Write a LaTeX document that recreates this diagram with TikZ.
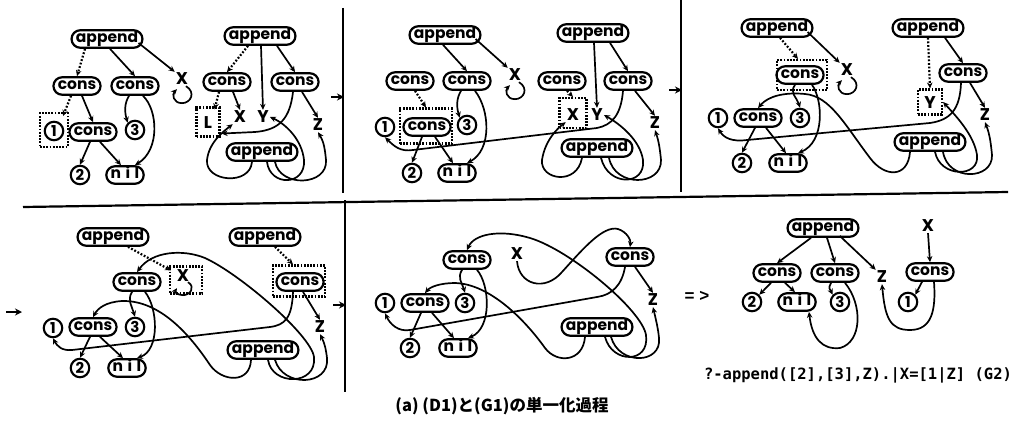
\documentclass[tikz,border=0pt]{standalone}
\usepackage{fontspec}
\newfontfamily\nf{Poppins}
\newfontfamily\cjk{Noto Sans CJK JP}
\newfontfamily\mono{DejaVu Sans Mono}
\newfontfamily\lsans{Liberation Sans}
\newcommand{\nilt}{n\hspace{4.5pt}i\hspace{4.5pt}l}
\usetikzlibrary{shapes.misc,arrows.meta,calc}
\begin{document}
\begin{tikzpicture}[x=1pt,y=-1pt,
  pill/.style={draw, line width=2.2pt, rounded rectangle, inner xsep=3pt, inner ysep=4pt,
     text height=8.5pt, text depth=1pt, font=\nf\bfseries\fontsize{15.5}{15.5}\selectfont},
  num/.style={draw, circle, line width=2.1pt, minimum size=18.5pt, inner sep=0pt,
     font=\nf\bfseries\fontsize{15}{15}\selectfont},
  var/.style={inner sep=1pt, font=\nf\bfseries\fontsize{17}{17}\selectfont},
  dbox/.style={draw, line width=2.1pt, dash pattern=on 1.8pt off 1.4pt, inner sep=0pt},
  arr/.style={-{Stealth[length=6pt,width=5.5pt]}, line width=1.7pt},
  darr/.style={arr, line width=2.2pt, dash pattern=on 1.8pt off 1.8pt},
  frame/.style={line width=2.2pt},
  parr/.style={-{Stealth[length=7pt,width=7pt]}, line width=2.2pt}
]
\useasboundingbox (0,0) rectangle (1027,420);

% ---------------- frames ----------------
\draw[frame] (343,8) -- (343,193);
\draw[frame] (681,0) -- (681,192);
\draw[frame] (23,207) -- (1008,192);
\draw[frame] (345,200) -- (345,392);
\coordinate (p2a) at (331,97); \coordinate (p2b) at (344,97);
\coordinate (p3a) at (669,90); \coordinate (p3b) at (682,90);
\coordinate (p4a) at (6,312);  \coordinate (p4b) at (22,312);
\coordinate (p5a) at (333,305); \coordinate (p5b) at (346,305);
\draw[parr] (p2a) -- (p2b);
\draw[parr] (p3a) -- (p3b);
\draw[parr] (p4a) -- (p4b);
\draw[parr] (p5a) -- (p5b);

% ---------------- panel 1 ----------------
\node[pill] (a1) at (107,39) {append};
\node[pill] (c1) at (77,86) {cons};
\node[pill] (c2) at (135,86) {cons};
\node[var] (x1) at (182,79) {X};
\node[dbox, minimum width=28pt, minimum height=34pt] (bx1) at (54,130) {};
\node[num] (n1a) at (54,131) {1};
\node[pill] (c3) at (93,132) {cons};
\node[num] (n3a) at (135,130) {3};
\node[num] (n2a) at (80,175) {2};
\node[pill] (nil1) at (125,175) {\nilt};

\draw[darr] ($(a1.south)+(-22,0)$) -- (c1.north);
\draw[arr] ($(a1.south)+(3,0)$) -- (c2.north);
\draw[arr] ($(a1.east)+(-5,4)$) -- (x1.north west);
\draw[arr] ($(x1.south)+(4,0)$) .. controls +(10,6) and +(9,0) .. ($(x1.south)+(0,17)$) .. controls +(-9,0) and +(-5,5) .. ($(x1.south)+(-5,3)$);
\draw[darr] ($(c1.south)+(-6,0)$) -- ($(bx1.north east)+(-6,4)$);
\draw[arr] ($(c1.south)+(5,0)$) -- (c3.north);
\draw[arr] ($(c2.south)+(-6,0)$) .. controls +(-5,8) and +(-3,-10) .. (n3a.north west);
\draw[arr] ($(c2.south)+(8,0)$) .. controls (158,110) and (160,150) .. (nil1.north east);
\draw[arr] ($(c3.south)+(-3,0)$) -- (n2a.north);
\draw[arr] ($(c3.south)+(7,0)$) -- ($(nil1.north)+(-4,0)$);

\node[pill] (a2) at (260,36) {append};
\node[pill] (c4) at (227,82) {cons};
\node[pill] (c5) at (295,82) {cons};
\node[dbox, minimum width=23pt, minimum height=29pt] (bL) at (208,122) {};
\node[var] (L1) at (208,123) {L};
\node[var] (x2) at (240,117) {X};
\node[var] (y2) at (263,117) {Y};
\node[var] (z2) at (318,125) {Z};
\node[pill] (a3) at (262,152) {append};

\draw[darr] ($(a2.south)+(-12,0)$) -- (c4.north);
\draw[arr] ($(a2.south)+(1,0)$) -- (y2.north);
\draw[arr] ($(a2.south)+(17,0)$) -- (c5.north);
\draw[darr] ($(c4.south)+(-8,0)$) -- ($(bL.north east)+(-6,3)$);
\draw[arr] ($(c4.south)+(6,0)$) -- (x2.north);
\draw[arr] ($(c5.south)+(7,0)$) -- (z2.north);
\draw[arr] ($(c5.south)+(-2,0)$) .. controls (290,118) and (280,130) .. (255,132) -- ($(bL.south east)+(1,-4)$);
\draw[arr] ($(a3.south)+(-10,0)$) .. controls (250,186) and (205,182) .. (207,160) .. controls (209,142) and (224,131) .. (x2.south west);
\draw[arr] ($(a3.south)+(5,0)$) .. controls (270,187) and (306,186) .. (304,160) .. controls (302,140) and (286,124) .. (y2.east);
\draw[arr] ($(a3.south)+(13,0)$) .. controls (280,188) and (328,186) .. (326,160) .. controls (325,150) and (324,142) .. (z2.south);

% ---------------- panel 2 ----------------
\node[pill] (b1) at (445,35) {append};
\node[pill] (b2) at (410,81) {cons};
\node[pill] (b3) at (467,81) {cons};
\node[var] (bx) at (515,75) {X};
\node[num] (bn1) at (385,127) {1};
\node[dbox, minimum width=52pt, minimum height=35pt] (bbox) at (426,126) {};
\node[pill] (b4) at (427,127) {cons};
\node[num] (bn3) at (467,125) {3};
\node[num] (bn2) at (412,173) {2};
\node[pill] (bnil) at (457,173) {\nilt};

\draw[arr] ($(b1.south)+(-2,0)$) -- (b3.north);
\draw[arr] ($(b1.east)+(-6,4)$) -- (bx.north west);
\draw[arr] ($(bx.south)+(4,0)$) .. controls +(10,6) and +(9,0) .. ($(bx.south)+(0,17)$) .. controls +(-9,0) and +(-5,5) .. ($(bx.south)+(-5,3)$);
\draw[darr] ($(b2.south)+(5,0)$) -- (bbox.north);
\draw[arr] ($(b3.south)+(-6,0)$) .. controls +(-5,8) and +(-3,-10) .. (bn3.north west);
\draw[arr] ($(b3.south)+(8,0)$) .. controls (490,110) and (492,150) .. (bnil.north east);
\draw[arr] ($(b4.south)+(-5,0)$) -- (bn2.north);
\draw[arr] ($(b4.south)+(8,0)$) -- ($(bnil.north)+(-4,0)$);

\node[pill] (r1) at (593,33) {append};
\node[pill] (r2) at (562,81) {cons};
\node[pill] (r3) at (628,81) {cons};
\node[dbox, minimum width=27pt, minimum height=30pt] (rbox) at (573,113) {};
\node[var] (rx) at (573,115) {X};
\node[var] (ry) at (597,115) {Y};
\node[var] (rz) at (655,123) {Z};
\node[pill] (r4) at (597,148) {append};

\draw[arr] ($(r1.south)+(1,0)$) -- (ry.north);
\draw[arr] ($(r1.south)+(17,0)$) -- (r3.north);
\draw[darr] ($(r2.south)+(5,0)$) -- (rbox.north);
\draw[arr] ($(r3.south)+(7,0)$) -- (rz.north);
\draw[arr] ($(r3.south)+(-5,0)$) .. controls (621,115) and (612,125) .. (597,128) -- (413,150) .. controls (400,152) and (394,146) .. (bn1.south);
\draw[arr] ($(r4.south)+(-15,0)$) .. controls (577,186) and (540,180) .. (542,160) .. controls (545,140) and (558,128) .. (rx.south west);
\draw[arr] ($(r4.south)+(4,0)$) .. controls (608,187) and (646,186) .. (643,160) .. controls (640,140) and (620,124) .. (ry.east);
\draw[arr] ($(r4.south)+(12,0)$) .. controls (615,188) and (662,186) .. (661,160) .. controls (660,150) and (659,142) .. (rz.south);

% ---------------- panel 3 ----------------
\node[pill] (d1) at (777,28) {append};
\node[dbox, minimum width=50pt, minimum height=30pt] (dbox) at (802,75) {};
\node[pill] (d2) at (800,75) {cons};
\node[var] (dx) at (847,70) {X};
\node[num] (dn1) at (718,118) {1};
\node[pill] (d3) at (758,118) {cons};
\node[num] (dn3) at (800,118) {3};
\node[num] (dn2) at (742,163) {2};
\node[pill] (dnil) at (788,163) {\nilt};
\node[pill] (e1) at (928,28) {append};
\node[pill] (e2) at (963,73) {cons};
\node[dbox, minimum width=24pt, minimum height=25pt] (ebox) at (930,102) {};
\node[var] (ey) at (930,103) {Y};
\node[var] (ez) at (985,115) {Z};
\node[pill] (e3) at (930,142) {append};

\draw[darr] ($(d1.south)+(3,0)$) -- ($(dbox.north)+(-4,0)$);
\draw[arr] ($(d1.east)+(-6,4)$) -- (dx.north west);
\draw[arr] ($(dx.south)+(4,0)$) .. controls +(10,6) and +(9,0) .. ($(dx.south)+(0,17)$) .. controls +(-9,0) and +(-5,5) .. ($(dx.south)+(-5,3)$);
\draw[arr] ($(d2.south)+(-5,0)$) .. controls +(-6,8) and +(-3,-10) .. (dn3.north);
\draw[arr] ($(d2.south)+(12,0)$) .. controls (823,100) and (825,142) .. (dnil.north east);
\draw[arr] ($(d3.south)+(-3,0)$) -- (dn2.north);
\draw[arr] ($(d3.south)+(8,0)$) -- ($(dnil.north)+(-2,0)$);
\draw[darr] ($(e1.south)+(0,0)$) -- (ebox.north);
\draw[arr] ($(e1.south)+(17,0)$) -- (e2.north);
\draw[arr] ($(e2.south)+(7,0)$) -- (ez.north);
\draw[arr] ($(e2.south)+(-2,0)$) .. controls (960,110) and (950,120) .. (930,123) -- (747,140) .. controls (732,142) and (724,138) .. (dn1.south);
\draw[arr] ($(e3.south)+(-20,0)$) .. controls (908,178) and (885,178) .. (870,158) .. controls (845,125) and (830,96) .. (805,94) .. controls (785,92) and (768,96) .. (d3.north);
\draw[arr] ($(e3.south)+(5,0)$) .. controls (940,178) and (980,178) .. (977,155) .. controls (974,135) and (956,116) .. (ebox.east);
\draw[arr] ($(e3.south)+(13,0)$) .. controls (948,182) and (993,180) .. (992,155) .. controls (991,145) and (990,135) .. (ez.south);

% ---------------- panel 4 ----------------
\node[pill] (f1) at (113,237) {append};
\node[pill] (f2) at (137,282) {cons};
\node[dbox, minimum width=32pt, minimum height=27pt] (fbox) at (186,280) {};
\node[var] (fx) at (183,276) {X};
\node[num] (fn1) at (53,328) {1};
\node[pill] (f3) at (93,327) {cons};
\node[num] (fn3) at (135,327) {3};
\node[num] (fn2) at (80,368) {2};
\node[pill] (fnil) at (127,368) {\nilt};
\node[pill] (g1) at (265,237) {append};
\node[dbox, minimum width=52pt, minimum height=31pt] (gbox) at (299,281) {};
\node[pill] (g2) at (300,282) {cons};
\node[var] (gz) at (320,327) {Z};
\node[pill] (g3) at (263,350) {append};

\draw[darr] ($(f1.south)+(15,0)$) -- ($(fbox.north west)+(2,5)$);
\draw[arr] ($(fx.south)+(5,-1)$) .. controls +(8,5) and +(7,0) .. ($(fx.south)+(0,12)$) .. controls +(-6,0) and +(-2,3) .. ($(fx.south)+(-6,5)$);
\draw[darr] ($(g1.south)+(10,0)$) -- ($(gbox.north)+(-6,0)$);
\draw[arr] ($(g2.south)+(3,0)$) -- (gz.north);
\draw[arr] ($(g2.south)+(-7,0)$) .. controls (292,318) and (285,325) .. (270,327) -- (72,350) .. controls (62,351) and (57,346) .. (fn1.south);
\draw[arr] ($(f2.south)+(-5,0)$) .. controls +(-5,8) and +(-3,-10) .. (fn3.north);
\draw[arr] ($(f2.south)+(8,0)$) .. controls (158,308) and (160,350) .. (fnil.north east);
\draw[arr] ($(f3.south)+(-3,0)$) -- (fn2.north);
\draw[arr] ($(f3.south)+(7,0)$) -- ($(fnil.north)+(-4,0)$);
\draw[arr] ($(g3.south)+(-12,0)$) .. controls (250,384) and (222,382) .. (210,365) .. controls (190,335) and (160,300) .. (122,301) .. controls (106,302) and (98,308) .. (f3.north);
\draw[arr] ($(g3.south)+(5,0)$) .. controls (272,386) and (317,386) .. (314,357) .. controls (311,335) and (240,274) .. (205,258) .. controls (183,249) and (152,251) .. (f2.north);
\draw[arr] ($(g3.south)+(12,0)$) .. controls (283,388) and (330,386) .. (327,358) .. controls (326,350) and (325,344) .. (gz.south);

% ---------------- panel 5 ----------------
\node[pill] (h2) at (467,260) {cons};
\node[var] (hx) at (517,254) {X};
\node[pill] (i2) at (630,257) {cons};
\node[num] (hn1) at (385,303) {1};
\node[pill] (h3) at (425,303) {cons};
\node[num] (hn3) at (465,303) {3};
\node[var] (iz) at (653,300) {Z};
\node[num] (hn2) at (410,348) {2};
\node[pill] (hnil) at (458,348) {\nilt};
\node[pill] (i3) at (597,327) {append};

\draw[arr] ($(h2.south)+(-5,0)$) .. controls +(-5,8) and +(-3,-10) .. (hn3.north);
\draw[arr] ($(h2.south)+(10,0)$) .. controls (490,285) and (492,328) .. (hnil.north east);
\draw[arr] ($(h3.south)+(-4,0)$) -- (hn2.north);
\draw[arr] ($(h3.south)+(7,0)$) -- ($(hnil.north)+(-4,0)$);
\draw[arr] (hx.south) .. controls (519,285) and (545,292) .. (562,272) .. controls (582,250) and (603,225) .. (618,229) .. controls (627,232) and (631,240) .. (i2.north);
\draw[arr] ($(i2.south)+(5,0)$) -- (iz.north);
\draw[arr] ($(i2.south)+(-5,0)$) .. controls (622,285) and (612,295) .. (597,297) -- (410,330) .. controls (398,332) and (390,324) .. (hn1.south);
\draw[arr] ($(i3.south)+(8,0)$) .. controls (612,364) and (650,364) .. (646,335) .. controls (642,310) and (570,250) .. (530,238) .. controls (500,229) and (474,234) .. (h2.north);
\draw[arr] ($(i3.south)+(-12,0)$) .. controls (583,362) and (557,364) .. (545,348) .. controls (525,320) and (490,284) .. (455,283) .. controls (440,283) and (430,287) .. (h3.north);
\draw[arr] ($(i3.south)+(14,0)$) .. controls (619,366) and (662,364) .. (659,338) .. controls (658,328) and (656,320) .. (iz.south);

% ---------------- panel 6 ----------------
\node[pill] (j1) at (823,228) {append};
\node[pill] (j2) at (777,273) {cons};
\node[pill] (j3) at (835,273) {cons};
\node[var] (jz) at (882,277) {Z};
\node[var] (jx) at (928,226) {X};
\node[pill] (j4) at (930,272) {cons};
\node[num] (jn1) at (908,302) {1};
\node[num] (jn2) at (752,302) {2};
\node[pill] (jnil) at (797,302) {\nilt};
\node[num] (jn3) at (840,302) {3};

\draw[arr] ($(j1.south)+(-12,0)$) -- (j2.north);
\draw[arr] ($(j1.south)+(4,0)$) -- (j3.north);
\draw[arr] ($(j1.south east)+(-10,-2)$) -- (jz.north west);
\draw[arr] (jx.south) -- (j4.north);
\draw[arr] ($(j2.south)+(-6,0)$) -- (jn2.north east);
\draw[arr] ($(j2.south)+(8,0)$) -- ($(jnil.north)+(-2,0)$);
\draw[arr] ($(j3.south)+(-4,0)$) .. controls +(-3,6) and +(-3,-6) .. (jn3.north west);
\draw[arr] ($(j3.south)+(10,0)$) .. controls (863,305) and (862,342) .. (840,348) .. controls (822,350) and (812,338) .. ($(jnil.south)+(12,0)$);
\draw[arr] ($(j4.south)+(-8,0)$) -- (jn1.north east);
\draw[arr] ($(j4.south)+(4,0)$) .. controls (936,310) and (932,330) .. (910,330) .. controls (890,330) and (885,318) .. (jz.south);

% ---------------- texts ----------------
\node[font=\lsans\bfseries\fontsize{17}{17}\selectfont] (imp) at (697,296) {= >};
\node[font=\mono\bfseries\fontsize{15.5}{16}\selectfont, inner sep=0pt] (goal) at (858,375) {?-append([2],[3],Z).|X=[1|Z] (G2)};
\node[font=\cjk\bfseries\fontsize{16.5}{16.5}\selectfont, inner sep=0pt] (cap) at (502,406) {(a) (D1)と(G1)の単一化過程};
\end{tikzpicture}
\end{document}
